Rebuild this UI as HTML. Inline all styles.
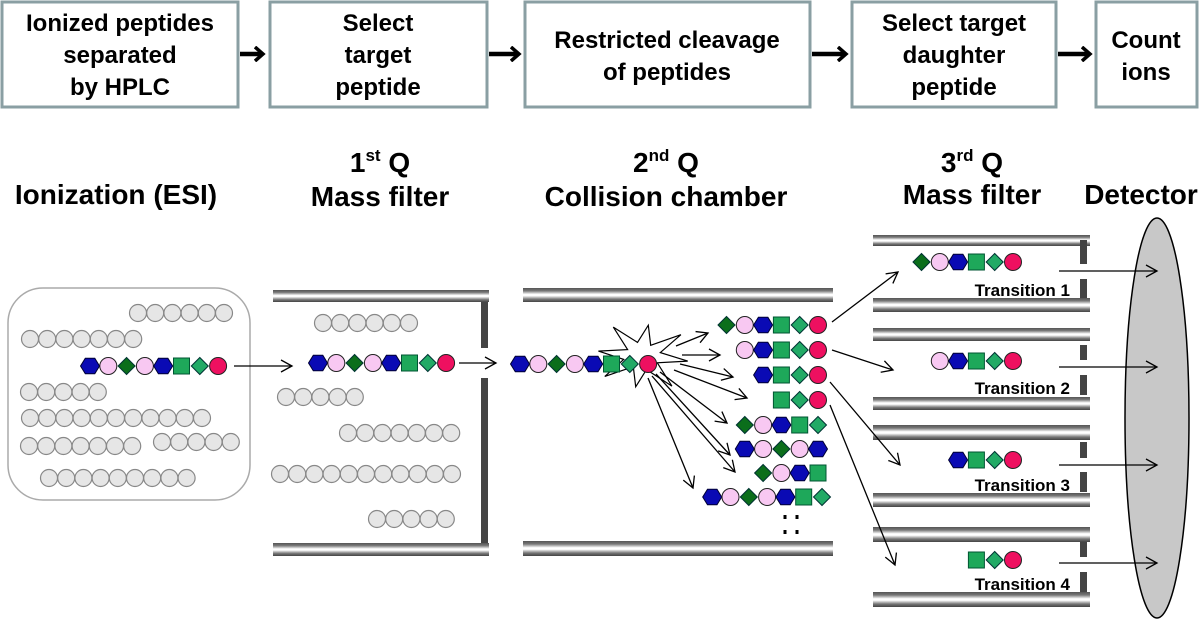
<!DOCTYPE html>
<html><head><meta charset="utf-8"><style>
html,body{margin:0;padding:0;background:#fff;}
svg{display:block;font-family:"Liberation Sans",Arial,sans-serif;}
</style></head><body>
<svg id="s" width="1200" height="624" viewBox="0 0 1200 624" xmlns="http://www.w3.org/2000/svg">
<defs>
<linearGradient id="rod" x1="0" y1="0" x2="0" y2="1">
<stop offset="0" stop-color="#555"/><stop offset="0.2" stop-color="#777"/><stop offset="0.45" stop-color="#fff"/><stop offset="0.55" stop-color="#fff"/><stop offset="0.8" stop-color="#777"/><stop offset="1" stop-color="#444"/>
</linearGradient>
<marker id="ah" markerWidth="14" markerHeight="14" refX="12" refY="7" orient="auto" markerUnits="userSpaceOnUse">
<path d="M1,1 L12,7 L1,13" fill="none" stroke="#000" stroke-width="1.3"/></marker>
<marker id="bh" markerWidth="16" markerHeight="16" refX="8" refY="8" orient="auto" markerUnits="userSpaceOnUse">
<path d="M1,1 L9,8 L1,15" fill="none" stroke="#000" stroke-width="3.5"/></marker>
</defs>
<g fill="none" stroke="#8a9fa3" stroke-width="3">
<rect x="2" y="2" width="236" height="105"/>
<rect x="270" y="2" width="217" height="105"/>
<rect x="525" y="2" width="285" height="105"/>
<rect x="852" y="2" width="204" height="105"/>
<rect x="1096" y="2" width="101" height="105"/>
</g>
<g stroke="#000" stroke-width="4.5" marker-end="url(#bh)">
<line x1="240" y1="54" x2="262" y2="54"/>
<line x1="489" y1="54" x2="518" y2="54"/>
<line x1="812" y1="54" x2="845" y2="54"/>
<line x1="1058" y1="54" x2="1089" y2="54"/>
</g>
<g font-weight="bold" font-size="24" text-anchor="middle" fill="#000">
<text x="120" y="31">Ionized peptides</text><text x="120" y="63">separated</text><text x="120" y="95">by HPLC</text>
<text x="378" y="31">Select</text><text x="378" y="63">target</text><text x="378" y="95">peptide</text>
<text x="667" y="48">Restricted cleavage</text><text x="667" y="80">of peptides</text>
<text x="954" y="31">Select target</text><text x="954" y="63">daughter</text><text x="954" y="95">peptide</text>
<text x="1146" y="48">Count</text><text x="1146" y="80">ions</text>
</g>
<g font-weight="bold" font-size="28" fill="#000" text-anchor="middle">
<text x="116" y="204">Ionization (ESI)</text>
<text x="380" y="172">1<tspan font-size="17" dy="-11">st</tspan><tspan dy="11"> Q</tspan></text>
<text x="380" y="206">Mass filter</text>
<text x="666" y="172">2<tspan font-size="17" dy="-11">nd</tspan><tspan dy="11"> Q</tspan></text>
<text x="666" y="206">Collision chamber</text>
<text x="972" y="172">3<tspan font-size="17" dy="-11">rd</tspan><tspan dy="11"> Q</tspan></text>
<text x="972" y="204">Mass filter</text>
<text x="1141" y="204">Detector</text>
</g>
<ellipse cx="1157" cy="418" rx="32" ry="200" fill="#c8c8c8" stroke="#000" stroke-width="1.5"/>
<rect x="8" y="288" width="242" height="212" rx="35" fill="#fff" stroke="#aaa" stroke-width="1.5"/>
<g id="g"></g>
<g font-weight="bold" font-size="17" text-anchor="end" fill="#000">
<text x="1070" y="296">Transition 1</text>
<text x="1070" y="394">Transition 2</text>
<text x="1070" y="491">Transition 3</text>
<text x="1070" y="590">Transition 4</text>
</g>
</svg>
<script>
var g=document.getElementById('g');var h='';
function rod(x1,x2,y1,y2){h+='<rect x="'+x1+'" y="'+y1+'" width="'+(x2-x1)+'" height="'+(y2-y1)+'" fill="url(#rod)"/>';}
function bar(x,y1,y2){h+='<rect x="'+x+'" y="'+y1+'" width="7" height="'+(y2-y1)+'" fill="#444"/>';}
function grays(x,y,n){for(var i=0;i<n;i++)h+='<circle cx="'+(x+i*17.2)+'" cy="'+y+'" r="8.5" fill="#e6e6e6" stroke="#888" stroke-width="1.2"/>';}
function shp(t,x,y){
 if(t=='H'){var p=[];for(var k=0;k<6;k++){var a=Math.PI/3*k;p.push((x+9.5*Math.cos(a)).toFixed(1)+','+(y+9*Math.sin(a)).toFixed(1));}h+='<polygon points="'+p.join(' ')+'" fill="#0a0ab4" stroke="#000033" stroke-width="1"/>';}
 else if(t=='P')h+='<circle cx="'+x+'" cy="'+y+'" r="8.5" fill="#f8c8f2" stroke="#222" stroke-width="1"/>';
 else if(t=='R')h+='<circle cx="'+x+'" cy="'+y+'" r="8.5" fill="#ee1060" stroke="#222" stroke-width="1"/>';
 else if(t=='S')h+='<rect x="'+(x-8)+'" y="'+(y-8)+'" width="16" height="16" fill="#1ea85a" stroke="#053" stroke-width="1"/>';
 else if(t=='D'||t=='L'){h+='<polygon points="'+(x-8.5)+','+y+' '+x+','+(y-8.5)+' '+(x+8.5)+','+y+' '+x+','+(y+8.5)+'" fill="'+(t=='D'?'#0b6e1b':'#22aa66')+'" stroke="#033" stroke-width="1"/>';}
}
function chain(x,y,s){for(var i=0;i<s.length;i++)shp(s[i],x+i*18.3,y);}
function chainR(xe,y,s){chain(xe-(s.length-1)*18.3,y,s);}
function arr(x1,y1,x2,y2){h+='<line x1="'+x1+'" y1="'+y1+'" x2="'+x2+'" y2="'+y2+'" stroke="#000" stroke-width="1.3" marker-end="url(#ah)"/>';}
grays(138,313,6);grays(30,339,7);grays(29,392,5);grays(30,418,11);grays(29,446,7);grays(162,442,5);grays(49,478,9);
chain(90,366,'HPDPHSLR');arr(234,366,292,366);
rod(273,489,290,302);rod(273,489,543,556);bar(481,302,348);bar(481,378,543);
grays(323,323,6);grays(286,397,5);grays(348,433,7);grays(280,474,11);grays(377,519,5);
chain(318,363,'HPDPHSLR');arr(459,363,496,363);
rod(523,833,288,302);rod(523,833,541,556);
var st=[];var rr=[40,16,46,18,44,17,48,18,40,16,44,18,42,16,46,18];
for(var k=0;k<16;k++){var a=-Math.PI/2+k*Math.PI*2/16+0.15;st.push((642+rr[k]*Math.cos(a)*1.05).toFixed(1)+','+(356+rr[k]*Math.sin(a)*0.78).toFixed(1));}
h+='<polygon points="'+st.join(' ')+'" fill="#fff" stroke="#000" stroke-width="1.2"/>';
chain(520,364,'HPDPHSLR');
var ends=[[708,333,676,346],[720,355,682,355],[733,377,680,364],[747,398,674,370],[727,423,660,372],[730,455,656,374],[735,472,652,376],[693,488,648,378]];
ends.forEach(function(e){arr(e[2],e[3],e[0],e[1]);});
chainR(818,325,'DPHSLR');chainR(818,350,'PHSLR');chainR(818,375,'HSLR');chainR(818,400,'SLR');
chainR(818,425,'DPHSL');chainR(818,449,'HPDPH');chainR(818,473,'DPHS');chainR(822,497,'HPDPHSL');
[[785,517],[797,517],[785,532],[797,532]].forEach(function(p){h+='<rect x="'+(p[0]-1.5)+'" y="'+(p[1]-2)+'" width="3" height="4" fill="#000"/>';});
var ch=[[235,246,240,264,271,279,298,298,312],[328,341,345,360,367,375,395,397,410],[425,440,442,458,465,472,492,493,507],[527,542,542,557,563,572,592,592,607]];
ch.forEach(function(c){rod(873,1090,c[0],c[1]);rod(873,1090,c[7],c[8]);bar(1080,c[2],c[3]);bar(1080,c[5],c[6]);arr(1059,c[4],1157,c[4]);});
chainR(1013,262,'DPHSLR');chainR(1013,361,'PHSLR');chainR(1013,460,'HSLR');chainR(1013,560,'SLR');
arr(832,322,898,272);arr(832,350,893,370);arr(830,382,900,465);arr(830,405,895,565);
g.innerHTML=h;
</script>
</body></html>
